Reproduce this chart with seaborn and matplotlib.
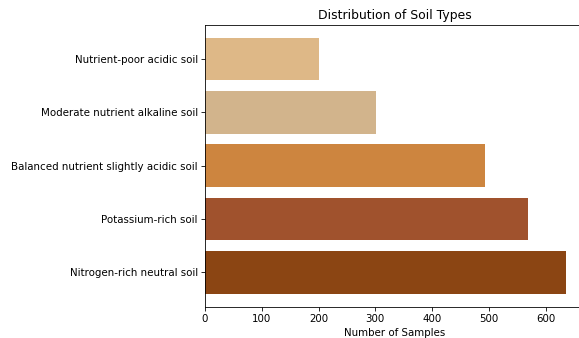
import matplotlib
matplotlib.use('Agg')
import matplotlib.pyplot as plt
import seaborn as sns
import pandas as pd

# Werte
soil_types = [
    'Nutrient-poor acidic soil',
    'Moderate nutrient alkaline soil',
    'Balanced nutrient slightly acidic soil',
    'Potassium-rich soil',
    'Nitrogen-rich neutral soil',
]
sample_counts = [200, 302, 494, 569, 636]
bar_colors = ['burlywood', 'tan', 'peru', 'sienna', 'saddlebrown']

df = pd.DataFrame({'soil': soil_types, 'count': sample_counts})

dpi = 74
fig = plt.figure(figsize=(579 / dpi, 338 / dpi), dpi=dpi)
ax = fig.add_axes([0.354, 0.093, 0.655, 0.833])

sns.barplot(data=df, x='count', y='soil', hue='soil', palette=bar_colors,
            legend=False, width=0.8, saturation=1, ax=ax)

ax.set_ylim(4.64, -0.64)
ax.set_xlim(0, 668)
ax.set_title('Distribution of Soil Types')
ax.set_xlabel('Number of Samples')
ax.set_ylabel('')

fig.savefig('out.png', dpi=dpi)
